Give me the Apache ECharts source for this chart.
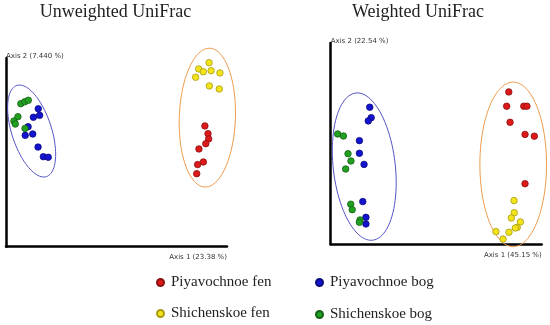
<!DOCTYPE html>
<html><head><meta charset="utf-8">
<script src="https://cdn.jsdelivr.net/npm/echarts@6/dist/echarts.min.js"></script>
<style>html,body{margin:0;padding:0;background:#fff}#c{width:550px;height:325px}</style>
</head><body><div id="c"></div>
<script>
var titles = ['Unweighted UniFrac', 'Weighted UniFrac'];
var xAxisNames = ['Axis 1 (23.38 %)', 'Axis 1 (45.15 %)'];
var yAxisNames = ['Axis 2 (7.440 %)', 'Axis 2 (22.54 %)'];
var groups = ['Piyavochnoe fen', 'Piyavochnoe bog', 'Shichenskoe fen', 'Shichenskoe bog'];

// Unweighted UniFrac PCoA (axis units scaled 0-100)
var uwPiyFen = [[90.0,64.0],[91.4,59.9],[91.7,57.1],[90.4,54.6],[87.3,51.8],[89.3,44.9],[86.7,43.5],[86.3,38.7]];
var uwPiyBog = [[14.6,73.1],[15.2,69.6],[12.4,68.6],[10.0,63.6],[12.1,59.7],[8.7,59.0],[14.5,52.8],[16.9,47.7],[19.1,47.4]];
var uwShiFen = [[91.9,97.5],[87.2,94.2],[89.3,92.7],[92.8,93.3],[96.8,92.1],[85.8,89.8],[92.0,85.2],[96.5,83.6]];
var uwShiBog = [[6.7,75.8],[8.5,76.8],[10.1,77.6],[5.4,68.9],[3.6,66.6],[4.2,65.0],[8.6,62.7]];

// Weighted UniFrac PCoA (axis units scaled 0-100)
var wPiyFen = [[84.4,75.7],[83.4,68.6],[91.5,68.6],[93.0,68.6],[85.0,60.6],[92.1,54.6],[96.5,53.7],[92.1,30.1]];
var wPiyBog = [[18.5,68.1],[19.2,62.9],[17.8,61.3],[13.6,51.5],[13.6,45.2],[15.8,39.7],[15.2,21.2],[16.7,13.4],[16.7,10.1]];
var wShiFen = [[86.9,21.7],[87.0,15.7],[85.6,13.1],[89.9,11.1],[88.4,8.4],[87.5,8.1],[84.5,6.0],[78.3,6.3],[81.7,2.6]];
var wShiBog = [[3.3,54.8],[6.0,53.8],[8.2,45.0],[9.6,41.4],[7.1,37.4],[9.5,19.9],[10.2,17.2],[13.9,12.1],[13.6,10.9]];

// cluster ellipses: [cx, cy, rx, ry, rotationDeg, colourIndex]
var uwEllipses = [[11.6,61.3,9.0,25.4,18,0],[91.1,68.4,12.7,36.8,-2,1]];
var wEllipses = [[15.9,38.6,14.7,36.8,6.5,0],[86.5,39.7,15.8,40.9,0,1]];

var colors = ['#dd1a1a', '#1414d0', '#f2e41c', '#22a022'];
var borders = ['#8a1010', '#0a0a80', '#a89a10', '#146014'];
var ellipseColors = ['#5252c4', '#ee9a4c'];

var grids = [
  {left: 6, top: 58, width: 221, height: 188.7},
  {left: 330.7, top: 43, width: 211, height: 201.3}
];

function axisX(i) {
  return {type:'value', gridIndex:i, min:0, max:100, splitLine:{show:false}, axisTick:{show:false}, axisLabel:{show:false},
    axisLine:{onZero:false, lineStyle:{color:'#000', width:2.5}},
    name:xAxisNames[i], nameLocation:'end', nameGap:0,
    nameTextStyle:{fontFamily:'DejaVu Sans', fontSize:7, color:'#333', align:'right', verticalAlign:'top', padding:[7,0,0,0]}};
}
function axisY(i) {
  return {type:'value', gridIndex:i, min:0, max:100, splitLine:{show:false}, axisTick:{show:false}, axisLabel:{show:false},
    axisLine:{onZero:false, lineStyle:{color:'#000', width:2.5}},
    name:yAxisNames[i], nameLocation:'end', nameGap:2,
    nameTextStyle:{fontFamily:'DejaVu Sans', fontSize:7, color:'#333', align:'left', verticalAlign:'middle'}};
}

function scatter(name, idx, data, gi) {
  return {type:'scatter', name:name, xAxisIndex:gi, yAxisIndex:gi, data:data, symbolSize:6.5,
    itemStyle:{color:colors[idx], borderColor:borders[idx], borderWidth:0.8, opacity:1}, z:3};
}
function ellipseSeries(list, gi) {
  return {type:'custom', xAxisIndex:gi, yAxisIndex:gi, data:list, silent:true, z:2, clip:false,
    renderItem:function(params, api){
      var c = api.coord([api.value(0), api.value(1)]);
      var a = api.size([api.value(2), 0])[0];
      var b = api.size([0, api.value(3)])[1];
      var th = api.value(4) * Math.PI / 180;
      var ct = Math.cos(th), st = Math.sin(th);
      var pts = [];
      for (var k = 0; k < 96; k++) {
        var t = k / 96 * 2 * Math.PI;
        var ex = a * Math.cos(t), ey = b * Math.sin(t);
        pts.push([c[0] + ex * ct + ey * st, c[1] - ex * st + ey * ct]);
      }
      return {type:'polygon', shape:{points:pts},
        style:{fill:'none', stroke:ellipseColors[api.value(5)], lineWidth:1}};
    }};
}

function legendAt(name, left, top) {
  return {data:[name], left:left, top:top, padding:0, icon:'circle', itemWidth:7, itemHeight:7, itemGap:0,
    textStyle:{fontFamily:'Liberation Serif', fontSize:15, color:'#222', padding:[0,0,0,2]}, selectedMode:false};
}

var chart = echarts.init(document.getElementById('c'));
chart.setOption({
  animation:false,
  title:[
    {text:titles[0], left:115.5, top:3, padding:0, textAlign:'center', textStyle:{fontFamily:'Liberation Serif', fontWeight:'normal', fontSize:18, color:'#222'}},
    {text:titles[1], left:418, top:3, padding:0, textAlign:'center', textStyle:{fontFamily:'Liberation Serif', fontWeight:'normal', fontSize:18, color:'#222'}}
  ],
  legend:[
    legendAt(groups[0], 156, 275),
    legendAt(groups[1], 315, 275),
    legendAt(groups[2], 156, 306),
    legendAt(groups[3], 315, 307)
  ],
  grid:grids,
  xAxis:[axisX(0), axisX(1)],
  yAxis:[axisY(0), axisY(1)],
  series:[
    ellipseSeries(uwEllipses, 0),
    ellipseSeries(wEllipses, 1),
    scatter(groups[0], 0, uwPiyFen, 0),
    scatter(groups[1], 1, uwPiyBog, 0),
    scatter(groups[2], 2, uwShiFen, 0),
    scatter(groups[3], 3, uwShiBog, 0),
    scatter(groups[0], 0, wPiyFen, 1),
    scatter(groups[1], 1, wPiyBog, 1),
    scatter(groups[2], 2, wShiFen, 1),
    scatter(groups[3], 3, wShiBog, 1)
  ]
});
</script></body></html>
